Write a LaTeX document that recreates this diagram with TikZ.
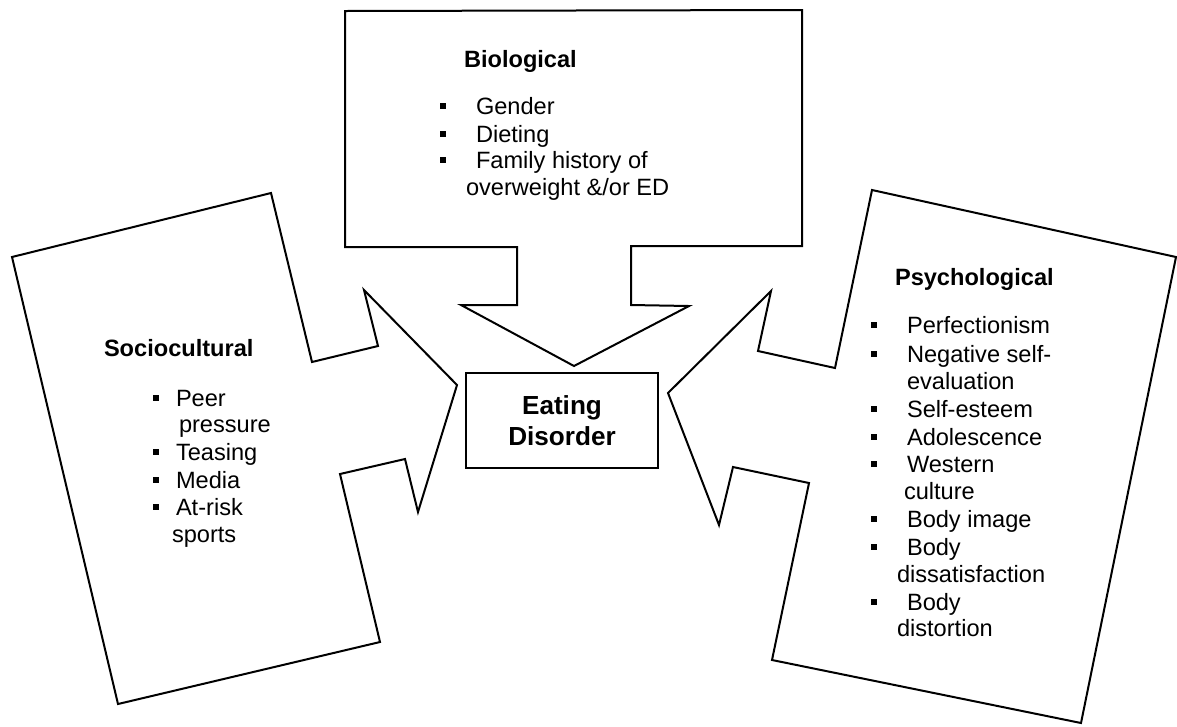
\documentclass[tikz,border=0pt]{standalone}
\usepackage{fontspec}
\setmainfont{Liberation Sans}

\begin{document}
\begin{tikzpicture}[x=0.75pt,y=0.75pt,line width=1.5pt]
\tikzstyle{every node}+=[inner sep=0pt]
\tikzstyle{txt}=[anchor=base west,font=\fontsize{17.7}{21}\selectfont]
\tikzstyle{ttl}=[anchor=base west,font=\fontsize{17.7}{21}\selectfont\bfseries]
\useasboundingbox (0,0) rectangle (1177,-726);
% biological
\draw [black] (345,-11) -- (802,-10) -- (802,-246) -- (631,-246) -- (631,-305) -- (689,-306) -- (574,-366) -- (461,-305) -- (517,-305) -- (517,-247) -- (345,-247) -- cycle;
\node [ttl] (bio) at (463,-67) {Biological};
\node [txt] (bio1) at (475,-114) {Gender};
\node [txt] (bio2) at (475,-142) {Dieting};
\node [txt] (bio3) at (475,-168) {Family history of};
\node [txt] (bio3b) at (465,-195) {overweight \&/or ED};
\foreach \y in {114,142,168}
  \fill [black] (440,{5-\y}) rectangle ++(6,6);
% sociocultural
\draw [black] (12,-257) -- (271,-193) -- (312,-362) -- (378,-346) -- (364,-290) -- (457,-385) -- (418,-512) -- (405,-459) -- (340,-474) -- (380,-642) -- (118,-704) -- cycle;
\node [ttl] (soc) at (103,-356) {Sociocultural};
\node [txt] (soc1) at (175,-406) {Peer};
\node [txt] (soc1b) at (178,-432) {pressure};
\node [txt] (soc2) at (175,-460) {Teasing};
\node [txt] (soc3) at (175,-488) {Media};
\node [txt] (soc4) at (175,-515) {At-risk};
\node [txt] (soc4b) at (171,-542) {sports};
\foreach \y in {406,460,488,515}
  \fill [black] (153,{5-\y}) rectangle ++(6,6);
% psychological
\draw [black] (872,-190) -- (1176,-257) -- (1081,-723) -- (772,-660) -- (809,-483) -- (733,-467) -- (719,-525) -- (668,-393) -- (771,-291) -- (758,-351) -- (835,-368) -- cycle;
\node [ttl] (psy) at (894,-285) {Psychological};
\node [txt] (psy1) at (906,-333) {Perfectionism};
\node [txt] (psy2) at (906,-362) {Negative self-};
\node [txt] (psy2b) at (906,-389) {evaluation};
\node [txt] (psy3) at (906,-417) {Self-esteem};
\node [txt] (psy4) at (906,-445) {Adolescence};
\node [txt] (psy5) at (906,-472) {Western};
\node [txt] (psy5b) at (903,-499) {culture};
\node [txt] (psy6) at (906,-527) {Body image};
\node [txt] (psy7) at (906,-555) {Body};
\node [txt] (psy7b) at (896,-582) {dissatisfaction};
\node [txt] (psy8) at (906,-610) {Body};
\node [txt] (psy8b) at (896,-636) {distortion};
\foreach \y in {333,362,417,445,472,527,555,610}
  \fill [black] (871,{5-\y}) rectangle ++(6,6);
% eating disorder
\node [draw,black,minimum width=144pt,minimum height=71.25pt,align=center,font=\fontsize{19.6}{23.25}\selectfont\bfseries] (ed) at (562,-420.5) {Eating\\Disorder};
\end{tikzpicture}
\end{document}
